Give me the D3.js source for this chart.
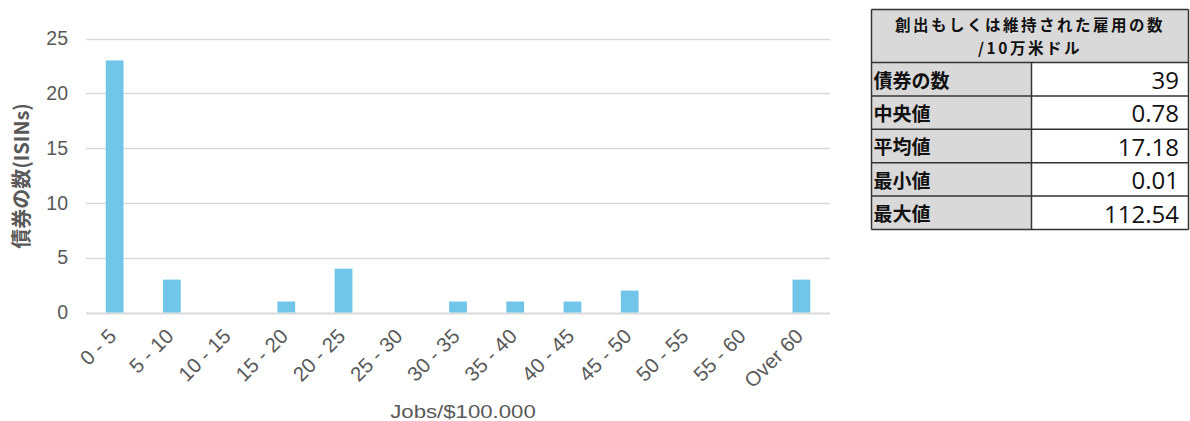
<!DOCTYPE html>
<html>
<head>
<meta charset="utf-8">
<script src="https://cdn.jsdelivr.net/npm/d3@7"></script>
<style>
  html, body { margin: 0; padding: 0; background: #fff; }
  svg { display: block; }
</style>
</head>
<body>
<svg id="chart" width="1190" height="421"></svg>
<script>
// Histogram bins and bond counts
const categories = ["0 - 5", "5 - 10", "10 - 15", "15 - 20", "20 - 25", "25 - 30", "30 - 35",
                    "35 - 40", "40 - 45", "45 - 50", "50 - 55", "55 - 60", "Over 60"];
const counts = [23, 3, 0, 1, 4, 0, 1, 1, 1, 2, 0, 0, 3];
const yTicks = [0, 5, 10, 15, 20, 25];

// Summary statistics table
const tableTitle = ["創出もしくは維持された雇用の数", "/10万米ドル"];
const statLabels = ["債券の数", "中央値", "平均値", "最小値", "最大値"];
const statValues = ["39", "0.78", "17.18", "0.01", "112.54"];

const LATIN = "'Liberation Sans', Arial, sans-serif";
const CJK = "'Noto Sans CJK JP', sans-serif";
const NUM = "'Open Sans', 'Liberation Sans', sans-serif";

const svg = d3.select("#chart");
const plot = { left: 86, right: 830, top: 38.5, bottom: 312.5 };

const x = d3.scaleBand()
  .domain(categories)
  .range([plot.left, plot.right])
  .paddingInner(0.69)
  .paddingOuter(0.345);

const y = d3.scaleLinear()
  .domain([0, 25])
  .range([plot.bottom, plot.top]);

// Horizontal gridlines
svg.append("g")
  .selectAll("line")
  .data(yTicks)
  .join("line")
  .attr("x1", plot.left)
  .attr("x2", plot.right)
  .attr("y1", d => Math.round(y(d)) + 0.5)
  .attr("y2", d => Math.round(y(d)) + 0.5)
  .attr("stroke", "#d9d9d9")
  .attr("stroke-width", d => d === 0 ? 2 : 1.5);

// Y axis labels
const yAxis = svg.append("g")
  .attr("transform", `translate(${plot.left},0)`)
  .call(d3.axisLeft(y).tickValues(yTicks).tickSize(0).tickPadding(18));
yAxis.select(".domain").remove();
yAxis.selectAll("text")
  .style("font-family", LATIN)
  .style("font-size", "19.5px")
  .attr("fill", "#595959");

// Bars
svg.append("g")
  .selectAll("rect")
  .data(counts)
  .join("rect")
  .attr("x", (d, i) => x(categories[i]))
  .attr("width", x.bandwidth())
  .attr("y", d => y(d))
  .attr("height", d => y(0) - y(d))
  .attr("fill", "#70C5E8");

// X axis labels, rotated
const xAxis = svg.append("g")
  .attr("transform", `translate(0,${plot.bottom})`)
  .call(d3.axisBottom(x).tickSize(0).tickPadding(0));
xAxis.select(".domain").remove();
xAxis.selectAll("text")
  .style("font-family", LATIN)
  .style("font-size", "20.5px")
  .attr("fill", "#595959")
  .attr("text-anchor", "end")
  .attr("dy", null)
  .attr("y", 0)
  .attr("transform", "translate(3,25) rotate(-45)");

// Axis titles
svg.append("text")
  .attr("transform", `translate(${(plot.left + plot.right) / 2 + 5},418) scale(1.2,1)`)
  .attr("text-anchor", "middle")
  .style("font-family", LATIN)
  .style("font-size", "18.5px")
  .attr("fill", "#595959")
  .text("Jobs/$100.000");

svg.append("text")
  .attr("transform", "translate(29,176) rotate(-90)")
  .attr("text-anchor", "middle")
  .style("font-family", CJK)
  .style("font-weight", "bold")
  .style("font-size", "20px")
  .attr("fill", "#595959")
  .text("債券の数(ISINs)");

// Statistics table
const tbl = { left: 871.5, right: 1188.5, top: 9.5, headerBottom: 62.5, colSplit: 1031.5 };
const rowH = 33.4;
const tg = svg.append("g");

tg.append("rect")
  .attr("x", tbl.left).attr("y", tbl.top)
  .attr("width", tbl.right - tbl.left).attr("height", tbl.headerBottom - tbl.top)
  .attr("fill", "#d9d9d9");

// Two-line header
tableTitle.forEach((t, i) => {
  tg.append("text")
    .attr("x", (tbl.left + tbl.right) / 2)
    .attr("y", 31 + i * 23)
    .attr("text-anchor", "middle")
    .style("font-family", CJK)
    .style("font-weight", "bold")
    .style("font-size", "15.5px")
    .style("letter-spacing", "2.5px")
    .attr("fill", "#111")
    .text(t);
});

const rows = tg.selectAll("g.row")
  .data(statLabels)
  .join("g")
  .attr("class", "row")
  .attr("transform", (d, i) => `translate(0,${tbl.headerBottom + i * rowH})`);

rows.append("rect")
  .attr("x", tbl.left).attr("y", 0)
  .attr("width", tbl.colSplit - tbl.left).attr("height", rowH)
  .attr("fill", "#d9d9d9");
rows.append("rect")
  .attr("x", tbl.colSplit).attr("y", 0)
  .attr("width", tbl.right - tbl.colSplit).attr("height", rowH)
  .attr("fill", "#fff");
rows.append("text")
  .attr("x", tbl.left + 2)
  .attr("y", 25)
  .style("font-family", CJK)
  .style("font-weight", "bold")
  .style("font-size", "19px")
  .attr("fill", "#111")
  .text(d => d);
rows.append("text")
  .attr("x", tbl.right - 9.5)
  .attr("y", 26.5)
  .attr("text-anchor", "end")
  .style("font-family", NUM)
  .style("font-size", "24px")
  .attr("fill", "#111")
  .text((d, i) => statValues[i]);

// Table grid lines
const tableBottom = tbl.headerBottom + statLabels.length * rowH;
const hLines = [tbl.top, tbl.headerBottom].concat(statLabels.map((d, i) => tbl.headerBottom + (i + 1) * rowH));
tg.selectAll("line.h")
  .data(hLines)
  .join("line")
  .attr("class", "h")
  .attr("x1", tbl.left).attr("x2", tbl.right)
  .attr("y1", d => d).attr("y2", d => d)
  .attr("stroke", "#333").attr("stroke-width", 1.5);
tg.selectAll("line.v")
  .data([
    [tbl.left, tbl.top, tableBottom],
    [tbl.right, tbl.top, tableBottom],
    [tbl.colSplit, tbl.headerBottom, tableBottom]
  ])
  .join("line")
  .attr("class", "v")
  .attr("x1", d => d[0]).attr("x2", d => d[0])
  .attr("y1", d => d[1]).attr("y2", d => d[2])
  .attr("stroke", "#333").attr("stroke-width", 1.5);
</script>
</body>
</html>
